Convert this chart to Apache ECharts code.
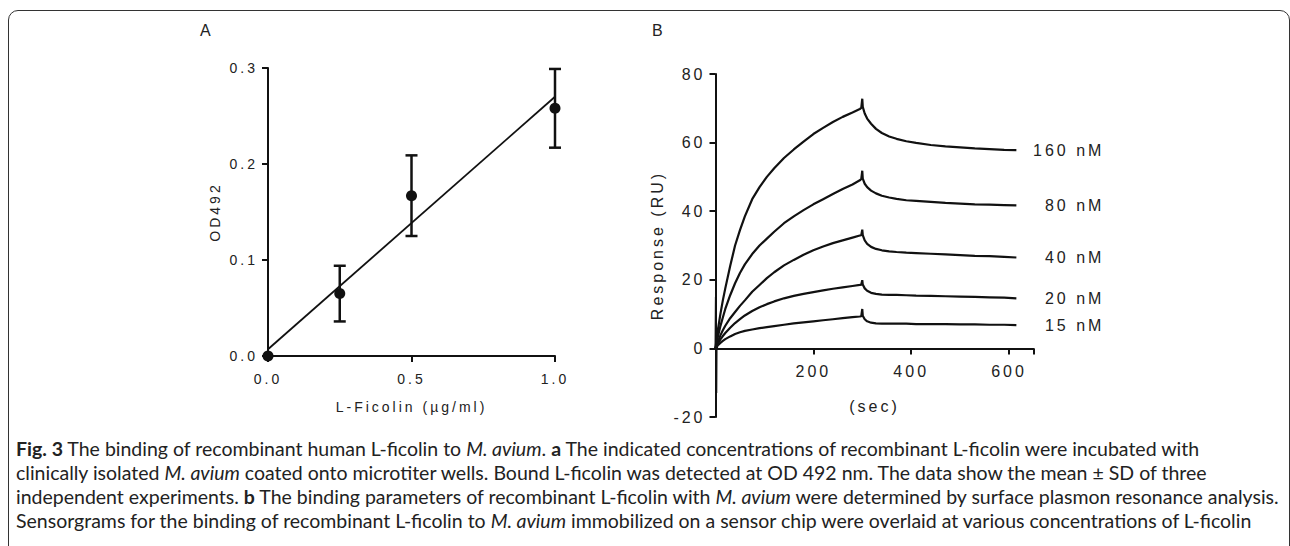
<!DOCTYPE html>
<html>
<head>
<meta charset="utf-8">
<script src="https://cdn.jsdelivr.net/npm/echarts@6/dist/echarts.min.js"></script>
<style>
html, body { margin: 0; padding: 0; background: #fff; }
#wrap { position: relative; width: 1290px; height: 546px; overflow: hidden; }
#frame { position: absolute; left: 8px; top: 10px; width: 1282px; height: 600px; border: 1.5px solid #333; border-radius: 10px; box-sizing: border-box; }
#chart { position: absolute; left: 0; top: 0; width: 1290px; height: 546px; }
#chart text { letter-spacing: 3px; }
#caption { position: absolute; left: 16px; top: 437px; font-family: Lato, "Open Sans", sans-serif; font-size: 19.5px; line-height: 24px; color: #222; white-space: nowrap; }
</style>
</head>
<body>
<div id="wrap">
  <div id="frame"></div>
  <div id="chart"></div>
  <div id="caption">
    <b>Fig. 3</b> The binding of recombinant human L-ficolin to <i>M. avium</i>. <b>a</b> The indicated concentrations of recombinant L-ficolin were incubated with<br>
    clinically isolated <i>M. avium</i> coated onto microtiter wells. Bound L-ficolin was detected at OD 492 nm. The data show the mean ± SD of three<br>
    independent experiments. <b>b</b> The binding parameters of recombinant L-ficolin with <i>M. avium</i> were determined by surface plasmon resonance analysis.<br>
    Sensorgrams for the binding of recombinant L-ficolin to <i>M. avium</i> immobilized on a sensor chip were overlaid at various concentrations of L-ficolin
  </div>
</div>
<script>
// panel A: ELISA
var concA = [0, 0.25, 0.5, 1.0];
var odMean = [0, 0.065, 0.167, 0.258];
var odSd = [0, 0.029, 0.042, 0.041];
var fitX = [0, 1.0];
var fitY = [0.007, 0.270];
var ticksAx = [0, 0.5, 1.0];
var ticksAy = [0, 0.1, 0.2, 0.3];

// panel B: SPR sensorgrams
var timeB = [0, 2, 5, 10, 15, 20, 30, 40, 50, 60, 75, 90, 105, 120, 140, 160, 180, 200, 220, 240, 260, 280, 295, 298, 300, 301, 305, 310, 318, 328, 340, 355, 370, 390, 410, 440, 470, 500, 530, 560, 590, 615];
var nM160 = [0, 2.5, 5.5, 10, 14, 17.5, 24, 30, 34.5, 38.5, 43.5, 47, 50, 52.5, 55.5, 58, 60.3, 62.5, 64.3, 66, 67.5, 68.8, 69.8, 70.1, 72.8, 70.4, 68.5, 67, 65.5, 64, 62.8, 61.8, 61.1, 60.4, 59.9, 59.3, 58.9, 58.6, 58.3, 58.1, 57.9, 57.8];
var nM80 = [0, 1.5, 3.5, 6.5, 9, 11.5, 15.5, 19, 22, 24.5, 27.5, 30, 32, 34, 36.5, 38.5, 40.3, 42, 43.5, 45, 46.5, 47.8, 49, 49.4, 51.8, 49.5, 48, 47, 46, 45.2, 44.5, 44, 43.6, 43.2, 43, 42.7, 42.4, 42.2, 42, 41.9, 41.8, 41.7];
var nM40 = [0, 1, 2, 3.8, 5.3, 6.6, 8.8, 10.6, 12.4, 14, 16.5, 18.5, 20.5, 22.2, 24.2, 25.8, 27.3, 28.6, 29.7, 30.7, 31.5, 32.3, 32.9, 33, 34.6, 33, 31.5, 30.5, 29.6, 29, 28.6, 28.3, 28.1, 27.9, 27.8, 27.6, 27.4, 27.2, 27, 26.9, 26.7, 26.5];
var nM20 = [0, 0.6, 1.4, 2.6, 3.6, 4.5, 6, 7.4, 8.5, 9.6, 10.9, 12, 12.9, 13.7, 14.6, 15.3, 15.9, 16.4, 16.9, 17.4, 17.8, 18.2, 18.5, 18.6, 19.9, 18.6, 17.5, 16.8, 16.2, 15.9, 15.7, 15.6, 15.6, 15.5, 15.4, 15.3, 15.2, 15.1, 15, 14.9, 14.8, 14.6];
var nM15 = [0, 0.4, 0.9, 1.6, 2.2, 2.7, 3.5, 4.2, 4.7, 5.1, 5.5, 5.9, 6.2, 6.5, 6.9, 7.3, 7.6, 7.9, 8.2, 8.5, 8.8, 9.1, 9.3, 9.4, 11.5, 9.5, 8.5, 7.9, 7.5, 7.3, 7.2, 7.2, 7.2, 7.2, 7.1, 7.1, 7.1, 7, 7, 6.9, 6.9, 6.8];
var injTime = [0, 0.8, 1.6, 2.4, 3.2];
var injValue = [0, 15, -13, 6, 0];
var concLabels = ['160 nM', '80 nM', '40 nM', '20 nM', '15 nM'];
var ticksBx = [200, 400, 600];
var ticksBy = [-20, 0, 20, 40, 60, 80];

var font = 'Liberation Sans, Arial, sans-serif';
var ink = '#111';

function pairs(xs, ys) {
  return xs.map(function (x, i) { return [x, ys[i]]; });
}

function axisStyle(size) {
  return {
    axisLine: { onZero: false, lineStyle: { color: ink, width: 2 } },
    axisTick: { length: 6, lineStyle: { color: ink, width: 2 } },
    splitLine: { show: false },
    axisLabel: { color: '#222', fontSize: size, fontFamily: font },
    nameTextStyle: { color: '#222', fontSize: size, fontFamily: font }
  };
}

var myChart = echarts.init(document.getElementById('chart'), null, { renderer: 'svg' });

var xA = axisStyle(14), yA = axisStyle(14), xB = axisStyle(16), yB = axisStyle(16);

var sprSeries = [nM160, nM80, nM40, nM20, nM15].map(function (vals, i) {
  return {
    type: 'line',
    xAxisIndex: 1, yAxisIndex: 1,
    data: pairs(timeB, vals),
    symbol: 'none',
    lineStyle: { color: ink, width: 2.2 },
    endLabel: {
      show: true,
      formatter: concLabels[i],
      align: 'right',
      distance: 88,
      color: '#222', fontSize: 16, fontFamily: font
    }
  };
});

option = {
  animation: false,
  grid: [
    { left: 268, top: 68, width: 287, height: 288 },
    { left: 715.5, top: 74, width: 318, height: 343 }
  ],
  xAxis: [
    Object.assign(xA, {
      gridIndex: 0, type: 'value',
      min: ticksAx[0], max: ticksAx[ticksAx.length - 1], interval: 0.5,
      name: 'L-Ficolin (µg/ml)', nameLocation: 'middle', nameGap: 44,
      axisLabel: Object.assign(xA.axisLabel, { margin: 16, formatter: function (v) { return v.toFixed(1); } })
    }),
    Object.assign(xB, {
      gridIndex: 1, type: 'value',
      min: 0, max: 650, interval: 200,
      // x axis sits on y = 0, 20 units (68.6 px) above the bottom of the grid
      offset: -68.6,
      name: '(sec)', nameLocation: 'middle', nameGap: 50,
      axisLabel: Object.assign(xB.axisLabel, { margin: 15, formatter: function (v) { return ticksBx.indexOf(v) >= 0 ? String(v) : ''; } })
    })
  ],
  yAxis: [
    Object.assign(yA, {
      gridIndex: 0, type: 'value',
      min: ticksAy[0], max: ticksAy[ticksAy.length - 1], interval: 0.1,
      name: 'OD492', nameLocation: 'middle', nameGap: 46,
      axisLabel: Object.assign(yA.axisLabel, { margin: 10, formatter: function (v) { return v.toFixed(1); } })
    }),
    Object.assign(yB, {
      gridIndex: 1, type: 'value',
      min: ticksBy[0], max: ticksBy[ticksBy.length - 1], interval: 20,
      name: 'Response (RU)', nameLocation: 'middle', nameGap: 50,
      axisLabel: Object.assign(yB.axisLabel, { margin: 10 })
    })
  ],
  graphic: [
    { type: 'text', left: 200, top: 22, style: { text: 'A', fontSize: 16, fontFamily: font, fill: '#222' } },
    { type: 'text', left: 652, top: 22, style: { text: 'B', fontSize: 16, fontFamily: font, fill: '#222' } }
  ],
  series: [
    {
      type: 'line',
      xAxisIndex: 0, yAxisIndex: 0,
      data: pairs(fitX, fitY),
      symbol: 'none',
      lineStyle: { color: ink, width: 1.8 }
    },
    {
      type: 'custom',
      xAxisIndex: 0, yAxisIndex: 0,
      data: concA.map(function (c, i) { return [c, odMean[i], odSd[i]]; }),
      clip: false,
      renderItem: function (params, api) {
        var x = api.value(0), m = api.value(1), s = api.value(2);
        if (!s) return;
        var top = api.coord([x, m + s]), bot = api.coord([x, m - s]);
        var w = 6;
        var st = { stroke: ink, lineWidth: 2.5 };
        return {
          type: 'group',
          children: [
            { type: 'line', shape: { x1: top[0], y1: top[1], x2: bot[0], y2: bot[1] }, style: st },
            { type: 'line', shape: { x1: top[0] - w, y1: top[1], x2: top[0] + w, y2: top[1] }, style: st },
            { type: 'line', shape: { x1: bot[0] - w, y1: bot[1], x2: bot[0] + w, y2: bot[1] }, style: st }
          ]
        };
      }
    },
    {
      type: 'scatter',
      xAxisIndex: 0, yAxisIndex: 0,
      data: pairs(concA, odMean),
      symbol: 'circle',
      symbolSize: 11,
      clip: false,
      z: 5,
      itemStyle: { color: ink, opacity: 1 }
    },
    {
      type: 'line',
      xAxisIndex: 1, yAxisIndex: 1,
      data: pairs(injTime, injValue),
      symbol: 'none',
      lineStyle: { color: ink, width: 2 }
    }
  ].concat(sprSeries)
};

myChart.setOption(option);
</script>
</body>
</html>
